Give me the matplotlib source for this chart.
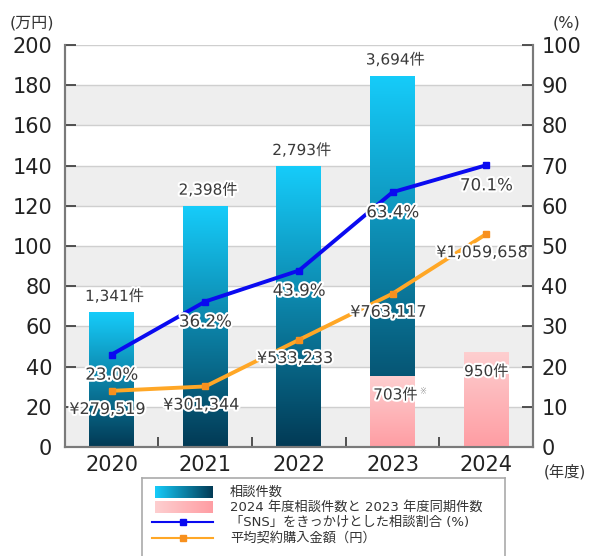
import matplotlib
matplotlib.use("Agg")
import matplotlib.pyplot as plt
import numpy as np
import matplotlib.patheffects as pe
from matplotlib.colors import LinearSegmentedColormap
from matplotlib.patches import Rectangle

plt.rcParams['font.family'] = ['DejaVu Sans', 'Noto Sans CJK JP']

# Data
years = ['2020', '2021', '2022', '2023', '2024']
consult_counts = [1341, 2398, 2793, 3694]          # 2020-2023 full year
same_period_counts = [703, 950]                    # 2023 same period, 2024
same_period_idx = [3, 4]
sns_ratio = [23.0, 36.2, 43.9, 63.4, 70.1]         # %
avg_amount_yen = [279519, 301344, 533233, 763117, 1059658]

count_labels = ['1,341件', '2,398件', '2,793件', '3,694件']
same_period_labels = ['703件', '950件']
ratio_labels = ['23.0%', '36.2%', '43.9%', '63.4%', '70.1%']
amount_labels = ['¥279,519', '¥301,344', '¥533,233', '¥763,117', '¥1,059,658']

COUNT_PER_UNIT = 20  # 4,000 cases == 200 on the left scale

BLUE_TOP, BLUE_BOT = '#16ccfa', '#023a55'
PINK_TOP, PINK_BOT = '#fdcfd0', '#ff9da3'
TXT = '#3a3a3a'
halo = [pe.withStroke(linewidth=3, foreground='white')]


def gradient_bar(ax, bar, c_top, c_bot, horizontal=False):
    x0, y0 = bar.get_x(), bar.get_y()
    w, h = bar.get_width(), bar.get_height()
    cmap = LinearSegmentedColormap.from_list('g', [c_bot, c_top])
    grad = np.linspace(0, 1, 256).reshape(-1, 1)
    if horizontal:
        cmap = LinearSegmentedColormap.from_list('g', [c_top, c_bot])
        grad = grad.T
    im = ax.imshow(grad, extent=[x0, x0 + w, y0, y0 + h], origin='lower',
                   aspect='auto', cmap=cmap, zorder=bar.get_zorder())
    im.set_clip_path(bar)


fig = plt.figure(figsize=(5.89, 5.56), dpi=100)
ax = fig.add_axes([0.110, 0.196, 0.795, 0.723])
ax2 = ax.twinx()

x = np.arange(len(years))

# background bands and grid
for lo in range(0, 200, 40):
    ax.axhspan(lo, lo + 20, color='#eeeeee', zorder=0, lw=0)
ax.set_axisbelow(True)
ax.yaxis.grid(True, color='#cfcfcf', lw=1)

# bars
bw = 0.48
blue_bars = ax.bar(x[:4], np.array(consult_counts) / COUNT_PER_UNIT, bw,
                   facecolor='none', edgecolor='none', zorder=2)
for b in blue_bars:
    gradient_bar(ax, b, BLUE_TOP, BLUE_BOT)
pink_bars = ax.bar(same_period_idx, np.array(same_period_counts) / COUNT_PER_UNIT, bw,
                   facecolor='none', edgecolor='none', zorder=3)
for b in pink_bars:
    gradient_bar(ax, b, PINK_TOP, PINK_BOT)

for xi, c, lab in zip(x[:4], consult_counts, count_labels):
    ax.annotate(lab, (xi, c / COUNT_PER_UNIT), xytext=(2, 6), textcoords='offset points',
                ha='center', va='bottom', fontsize=11, color=TXT, zorder=6, path_effects=halo)
ax.annotate(same_period_labels[0], (3, same_period_counts[0] / COUNT_PER_UNIT),
            xytext=(2, -8), textcoords='offset points', ha='center', va='top',
            fontsize=11, color=TXT, zorder=6, path_effects=halo)
ax.annotate('※', (3, same_period_counts[0] / COUNT_PER_UNIT), xytext=(22, -8),
            textcoords='offset points', ha='center', va='top', fontsize=6,
            color='#999999', zorder=6)
ax.annotate(same_period_labels[1], (4, same_period_counts[1] / COUNT_PER_UNIT),
            xytext=(0, -9), textcoords='offset points', ha='center', va='top',
            fontsize=11, color=TXT, zorder=6, path_effects=halo)

# orange line (left axis, 万円)
amount_man = np.array(avg_amount_yen) / 10000
ax.plot(x, amount_man, color='#ffa726', lw=2.8, marker='s', ms=5,
        mfc='#f7901e', mec='#f7901e', zorder=5)
for xi, v, lab in zip(x, amount_man, amount_labels):
    ax.annotate(lab, (xi, v), xytext=(-3, -8), textcoords='offset points',
                ha='center', va='top', fontsize=11.5, color=TXT, zorder=6, path_effects=halo)

# blue line (right axis, %)
ax2.plot(x, sns_ratio, color='#0a0af0', lw=2.8, marker='s', ms=5,
         mfc='#0a0af0', mec='#0a0af0', zorder=5)
for xi, v, lab in zip(x, sns_ratio, ratio_labels):
    ax2.annotate(lab, (xi, v), xytext=(0, -8), textcoords='offset points',
                 ha='center', va='top', fontsize=12, color=TXT, zorder=6, path_effects=halo)

# axes
ax.set_xlim(-0.5, 4.5)
ax.set_ylim(0, 200)
ax2.set_ylim(0, 100)
ax.set_yticks(np.arange(0, 201, 20))
ax2.set_yticks(np.arange(0, 101, 10))
ax.set_xticks(x)
ax.set_xticklabels(years)
ax.set_xticks(np.arange(0.5, 4.5, 1), minor=True)
ax.tick_params(axis='x', which='major', length=0, labelsize=15, pad=6, colors='#222222')
ax.tick_params(axis='x', which='minor', direction='in', length=7, width=1.3, color='#444444')
ax.tick_params(axis='y', direction='in', length=8, width=1.3, color='#444444',
               labelsize=15, labelcolor='#222222', pad=9)
ax2.tick_params(axis='y', direction='in', length=8, width=1.3, color='#444444',
                labelsize=15, labelcolor='#222222', pad=6)
for a in (ax, ax2):
    for s in ('left', 'right', 'bottom'):
        a.spines[s].set_color('#7a7a7a')
        a.spines[s].set_linewidth(1.5)
    a.spines['top'].set_visible(False)

fig.text(0.017, 0.958, '(万円)', fontsize=11.5, color='#333333', ha='left', va='center')
fig.text(0.985, 0.958, '(%)', fontsize=11.5, color='#333333', ha='right', va='center')
fig.text(0.995, 0.152, '(年度)', fontsize=11, color='#333333', ha='right', va='center')

# legend box, laid out in pixel units
lg_top = 478
lg_h = 556 - lg_top + 40
lg = fig.add_axes([142 / 589, 1 - (lg_top + lg_h) / 556, 363 / 589, lg_h / 556])
lg.set_xticks([])
lg.set_yticks([])
for s in lg.spines.values():
    s.set_color('#aaaaaa')
    s.set_linewidth(1.2)

legend_texts = ['相談件数', '2024 年度相談件数と 2023 年度同期件数',
                '「SNS」をきっかけとした相談割合 (%)', '平均契約購入金額（円）']
rows = [14, 29, 44, 60]
p1 = Rectangle((13, rows[0] - 6), 58, 12, facecolor='none', edgecolor='none')
lg.add_patch(p1)
gradient_bar(lg, p1, BLUE_TOP, BLUE_BOT, horizontal=True)
p2 = Rectangle((13, rows[1] - 6), 58, 12, facecolor='none', edgecolor='none')
lg.add_patch(p2)
gradient_bar(lg, p2, PINK_TOP, PINK_BOT, horizontal=True)
lg.plot([10, 71], [rows[2], rows[2]], color='#0a0af0', lw=1.5)
lg.plot([41], [rows[2]], 's', color='#0a0af0', ms=4)
lg.plot([10, 71], [rows[3], rows[3]], color='#ffa726', lw=1.5)
lg.plot([41], [rows[3]], 's', color='#f7901e', ms=4)
lg.set_xlim(0, 363)
lg.set_ylim(lg_h, 0)
for r, t in zip(rows, legend_texts):
    lg.text(88, r, t, fontsize=9.5, color='#333333', va='center', ha='left')

fig.savefig('out.png', dpi=100)
